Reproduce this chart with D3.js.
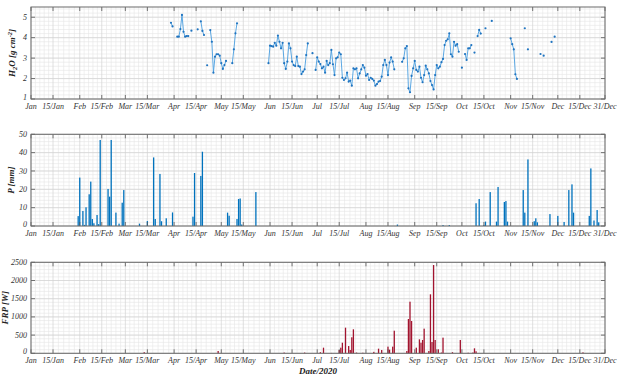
<!DOCTYPE html>
<html>
<head>
<meta charset="utf-8">
<script src="https://cdn.jsdelivr.net/npm/d3@7"></script>
<style>
  body { margin: 0; background: #fff; }
  text { font-family: "Liberation Serif", "Times New Roman", serif; }
</style>
</head>
<body>
<svg id="chart"></svg>
<script>
// ---- data (day = days since 1 Jan 2020) ----
const h2oDay = [
  89, 90, 93, 94, 95, 96, 97, 98, 99, 100, 102, 106, 108, 109, 110, 112,
  114, 115, 116, 117, 118, 119, 120, 121, 122, 123, 124, 128, 129, 130, 131,
  151, 152, 153, 154, 155, 156, 157, 158, 159, 160, 161, 162, 163, 164, 165, 166,
  167, 168, 169, 170, 171, 172, 173, 174, 175, 176, 179,
  181, 182, 183, 184, 185, 186, 187, 188, 189, 190, 191, 192, 193, 194, 195, 196,
  197, 198, 199, 200, 201, 202, 203, 204, 205, 206, 207, 208, 209, 210, 211, 212,
  213, 214, 215, 216, 217, 218, 219, 220, 221, 222, 223, 224, 225, 226, 227, 228,
  229, 230, 231,
  236, 237, 238, 239, 240, 241, 242, 243, 244, 245, 246, 247, 248, 249, 250, 251,
  252, 253, 254, 255, 256, 257, 258, 259, 260, 261, 262, 263, 264, 265, 266, 267,
  268, 269, 270, 271, 272,
  274, 276, 277, 278, 279, 280, 282, 284, 285, 286, 289, 293,
  305, 306, 307, 308, 309, 314, 316, 324, 326, 331, 333
];
const h2oVal = [
  4.73, 4.55, 4.05, 4.05, 4.42, 5.11, 4.29, 4.05, 4.08, 4.08, 4.34, 4.41, 4.80, 4.33, 4.13, 2.65,
  4.37, 3.80, 2.29, 3.07, 3.19, 3.19, 3.12, 2.75, 2.47, 2.66, 2.86, 2.75, 3.43, 4.21, 4.70,
  2.75, 3.61, 3.59, 3.56, 3.75, 3.61, 4.10, 3.80, 3.48, 3.75, 2.75, 2.47, 2.83, 3.72, 3.48, 2.83,
  2.66, 2.61, 3.07, 2.61, 2.58, 2.22, 2.34, 2.45, 3.15, 3.72, 3.24,
  2.42, 3.04, 2.83, 2.71, 2.50, 2.58, 2.29, 2.86, 2.66, 2.75, 3.40, 2.70, 2.17, 2.99, 3.04, 3.27,
  3.19, 2.04, 1.93, 2.01, 2.29, 1.85, 1.90, 1.65, 2.50, 2.45, 2.50, 2.01, 2.25, 2.45, 2.66, 2.53,
  2.14, 2.22, 1.93, 2.04, 1.98, 1.90, 1.65, 1.73, 1.85, 1.88, 2.09, 2.66, 2.91, 2.66, 2.17, 2.78,
  3.04, 2.83, 2.45,
  2.82, 2.99, 3.48, 3.59, 1.52, 1.33, 2.13, 2.50, 2.86, 2.42, 2.34, 2.58, 2.04, 1.82, 2.17, 2.63,
  2.45, 2.25, 1.88, 1.68, 1.47, 2.17, 2.66, 2.50, 2.58, 2.80, 2.96, 3.64, 3.85, 3.92, 4.21, 3.19,
  3.07, 3.80, 3.61, 3.68, 3.31,
  2.53, 3.20, 2.91, 3.48, 3.48, 3.64, 3.27, 4.08, 4.38, 4.20, 4.46, 4.82,
  3.97, 3.68, 3.43, 2.21, 1.98, 4.46, 3.43, 3.20, 3.12, 3.79, 4.05
];

const pDay = [
  30, 31, 33, 34, 35, 37, 38, 39, 40, 42, 43, 44, 49, 50, 51, 54, 56, 58, 59,
  69, 74, 78, 79, 82, 83, 86, 90, 103, 104, 108, 109,
  125, 126, 131, 132, 133, 134, 143, 233,
  262, 266, 283, 285, 288, 289, 292, 296, 297, 301, 302, 303,
  313, 314, 316, 320, 321, 322, 330, 335, 339, 342, 344, 345,
  355, 356, 358, 360, 361
];
const pVal = [
  5.4, 26.4, 8.2, 0.6, 10.2, 17.3, 24.2, 3.8, 1.5, 6.0, 1.0, 46.9, 20.2, 16.0, 46.9, 7.3, 1.3, 12.7, 19.6,
  1.3, 2.7, 37.4, 3.8, 28.4, 2.6, 4.2, 7.4, 5.1, 28.9, 27.3, 40.5,
  7.3, 5.6, 3.8, 14.7, 15.0, 0.8, 18.5, 0.8,
  0.5, 0.5, 12.4, 14.7, 0.5, 2.4, 18.5, 2.4, 21.3, 13.1, 13.6, 2.4,
  19.6, 7.3, 36.3, 2.6, 4.2, 2.0, 6.5, 5.5, 2.2, 19.6, 22.7, 7.3,
  5.5, 31.4, 3.0, 8.7, 2.0
];

const frpDay = [
  72, 119, 161, 174, 184, 186, 191, 196, 197, 198, 200, 202, 203, 204, 205,
  207, 211, 218, 221, 223, 227, 228, 230, 231, 239, 240, 241, 242,
  245, 247, 248, 249, 250, 253, 254, 255, 256, 257, 259, 261, 262,
  268, 273, 278, 281, 282, 283, 351
];
const frpVal = [
  30, 63, 20, 20, 30, 155, 10, 90, 155, 291, 704, 200, 90, 440, 659,
  20, 15, 40, 127, 90, 183, 100, 183, 621, 63, 942, 1418, 887,
  155, 384, 291, 366, 677, 63, 1620, 311, 2425, 366, 110, 20, 430,
  30, 366, 15, 20, 137, 55, 25
];

const tickDates = [
  "2020-01-01", "2020-01-15", "2020-02-01", "2020-02-15", "2020-03-01", "2020-03-15",
  "2020-04-01", "2020-04-15", "2020-05-01", "2020-05-15", "2020-06-01", "2020-06-15",
  "2020-07-01", "2020-07-15", "2020-08-01", "2020-08-15", "2020-09-01", "2020-09-15",
  "2020-10-01", "2020-10-15", "2020-11-01", "2020-11-15", "2020-12-01", "2020-12-15",
  "2020-12-31"
];
const tickLabels = [
  "Jan", "15/Jan", "Feb", "15/Feb", "Mar", "15/Mar", "Apr", "15/Apr", "May", "15/May",
  "Jun", "15/Jun", "Jul", "15/Jul", "Aug", "15/Aug", "Sep", "15/Sep", "Oct", "15/Oct",
  "Nov", "15/Nov", "Dec", "15/Dec", "31/Dec"
];
const h2oTicks = [1, 2, 3, 4, 5];
const pTicks = [0, 10, 20, 30, 40, 50];
const frpTicks = [0, 500, 1000, 1500, 2000, 2500];

// ---- setup ----
const width = 621;
const height = 380;
const left = 31, right = 605;

const svg = d3.select("#chart")
    .attr("width", width)
    .attr("height", height);

const parseDate = d3.timeParse("%Y-%m-%d");
const dayToDate = d => new Date(2020, 0, 1 + d);
const ticks = tickDates.map(parseDate);

const x = d3.scaleTime()
    .domain([dayToDate(0), dayToDate(365)])
    .range([left, right]);

// minor vertical grid: 5 steps between each pair of major ticks
const minorX = [];
for (let i = 0; i < ticks.length - 1; i++) {
    const a = x(ticks[i]), b = x(ticks[i + 1]);
    for (let k = 1; k < 5; k++) minorX.push(a + (b - a) * k / 5);
}

const panels = [
    { top: 7, bottom: 99, domain: [1, 5.5], ticks: h2oTicks, minor: 0.2 },
    { top: 134.3, bottom: 226, domain: [0, 50], ticks: pTicks, minor: 2 },
    { top: 262.3, bottom: 353.3, domain: [0, 2500], ticks: frpTicks, minor: 100 }
];

function drawFrame(p) {
    const y = d3.scaleLinear().domain(p.domain).range([p.bottom, p.top]);
    const g = svg.append("g");

    // minor grid
    g.selectAll(".mx").data(minorX).join("line")
        .attr("x1", d => d).attr("x2", d => d)
        .attr("y1", p.top).attr("y2", p.bottom)
        .attr("stroke", "#e6e6e6").attr("stroke-width", 0.6);
    const minorY = d3.range(p.domain[0], p.domain[1] + 1e-9, p.minor);
    g.selectAll(".my").data(minorY).join("line")
        .attr("x1", left).attr("x2", right)
        .attr("y1", d => y(d)).attr("y2", d => y(d))
        .attr("stroke", "#e6e6e6").attr("stroke-width", 0.6);

    // major grid
    g.selectAll(".gx").data(ticks).join("line")
        .attr("x1", d => x(d)).attr("x2", d => x(d))
        .attr("y1", p.top).attr("y2", p.bottom)
        .attr("stroke", "#d2d2d2").attr("stroke-width", 0.7);
    g.selectAll(".gy").data(p.ticks).join("line")
        .attr("x1", left).attr("x2", right)
        .attr("y1", d => y(d)).attr("y2", d => y(d))
        .attr("stroke", "#d2d2d2").attr("stroke-width", 0.7);

    p.y = y;
    p.g = g;
    return y;
}

function drawAxes(p) {
    const g = svg.append("g");
    const y = p.y;

    // inside ticks, both sides
    g.selectAll(".tb").data(ticks).join("line")
        .attr("x1", d => x(d)).attr("x2", d => x(d))
        .attr("y1", p.bottom).attr("y2", p.bottom - 4)
        .attr("stroke", "#555").attr("stroke-width", 0.8);
    g.selectAll(".tt").data(ticks).join("line")
        .attr("x1", d => x(d)).attr("x2", d => x(d))
        .attr("y1", p.top).attr("y2", p.top + 4)
        .attr("stroke", "#555").attr("stroke-width", 0.8);
    g.selectAll(".tl").data(p.ticks).join("line")
        .attr("x1", left).attr("x2", left + 4)
        .attr("y1", d => y(d)).attr("y2", d => y(d))
        .attr("stroke", "#555").attr("stroke-width", 0.8);
    g.selectAll(".tr").data(p.ticks).join("line")
        .attr("x1", right).attr("x2", right - 4)
        .attr("y1", d => y(d)).attr("y2", d => y(d))
        .attr("stroke", "#555").attr("stroke-width", 0.8);

    // box
    g.append("rect")
        .attr("x", left).attr("y", p.top)
        .attr("width", right - left).attr("height", p.bottom - p.top)
        .attr("fill", "none").attr("stroke", "#6a6a6a").attr("stroke-width", 1);

    // tick labels
    g.selectAll(".lx").data(ticks).join("text")
        .attr("x", d => x(d)).attr("y", p.bottom + 10)
        .attr("text-anchor", "middle")
        .attr("font-size", "8px").attr("font-style", "italic").attr("fill", "#333")
        .text((d, i) => tickLabels[i]);
    // lowest y label is nudged up a little so it clears "Jan"
    g.selectAll(".ly").data(p.ticks).join("text")
        .attr("x", left - 4).attr("y", (d, i) => y(d) - (i === 0 ? 2 : 0))
        .attr("dy", "0.32em")
        .attr("text-anchor", "end")
        .attr("font-size", "8px").attr("font-style", "italic").attr("fill", "#333")
        .text(d => d);
}

panels.forEach(drawFrame);

// ---- H2O line + markers ----
const h2o = h2oDay.map((d, i) => ({ day: d, v: h2oVal[i] }));
const byDay = new Map(h2o.map(d => [d.day, d.v]));
const fullDays = d3.range(d3.min(h2oDay), d3.max(h2oDay) + 1)
    .map(d => ({ day: d, v: byDay.has(d) ? byDay.get(d) : null }));

const y0 = panels[0].y;
const line = d3.line()
    .defined(d => d.v !== null)
    .x(d => x(dayToDate(d.day)))
    .y(d => y0(d.v));

panels[0].g.append("path")
    .datum(fullDays)
    .attr("d", line)
    .attr("fill", "none")
    .attr("stroke", "#4a9ee0")
    .attr("stroke-width", 0.9);

panels[0].g.selectAll(".pt").data(h2o).join("circle")
    .attr("cx", d => x(dayToDate(d.day)))
    .attr("cy", d => y0(d.v))
    .attr("r", 1.1)
    .attr("fill", "#1f74c0");

// ---- bars ----
function drawBars(p, days, vals, color) {
    const barW = 1.3;
    p.g.selectAll(".bar").data(days).join("rect")
        .attr("x", d => x(dayToDate(d)) - barW / 2)
        .attr("y", (d, i) => p.y(vals[i]))
        .attr("width", barW)
        .attr("height", (d, i) => p.y(0) - p.y(vals[i]))
        .attr("fill", color);
}
drawBars(panels[1], pDay, pVal, "#0072BD");
drawBars(panels[2], frpDay, frpVal, "#A2142F");

panels.forEach(drawAxes);

// ---- axis titles ----
const h2oLabel = svg.append("text")
    .attr("transform", `translate(15, ${(panels[0].top + panels[0].bottom) / 2}) rotate(-90)`)
    .attr("text-anchor", "middle")
    .attr("font-size", "9px").attr("font-weight", "bold").attr("font-style", "italic")
    .attr("fill", "#222");
h2oLabel.append("tspan").text("H");
h2oLabel.append("tspan").attr("dy", 2).attr("font-size", "6.5px").text("2");
h2oLabel.append("tspan").attr("dy", -2).text("O [g cm");
h2oLabel.append("tspan").attr("dy", -3.5).attr("font-size", "6.5px").text("-2");
h2oLabel.append("tspan").attr("dy", 3.5).text("]");

svg.append("text")
    .attr("transform", `translate(14, ${(panels[1].top + panels[1].bottom) / 2}) rotate(-90)`)
    .attr("text-anchor", "middle")
    .attr("font-size", "9px").attr("font-weight", "bold").attr("font-style", "italic")
    .attr("fill", "#222")
    .text("P [mm]");

svg.append("text")
    .attr("transform", `translate(8, ${(panels[2].top + panels[2].bottom) / 2}) rotate(-90)`)
    .attr("text-anchor", "middle")
    .attr("font-size", "9px").attr("font-weight", "bold").attr("font-style", "italic")
    .attr("fill", "#222")
    .text("FRP [W]");

svg.append("text")
    .attr("x", (left + right) / 2)
    .attr("y", 374)
    .attr("text-anchor", "middle")
    .attr("font-size", "9px").attr("font-weight", "bold").attr("font-style", "italic")
    .attr("fill", "#222")
    .text("Date/2020");
</script>
</body>
</html>
